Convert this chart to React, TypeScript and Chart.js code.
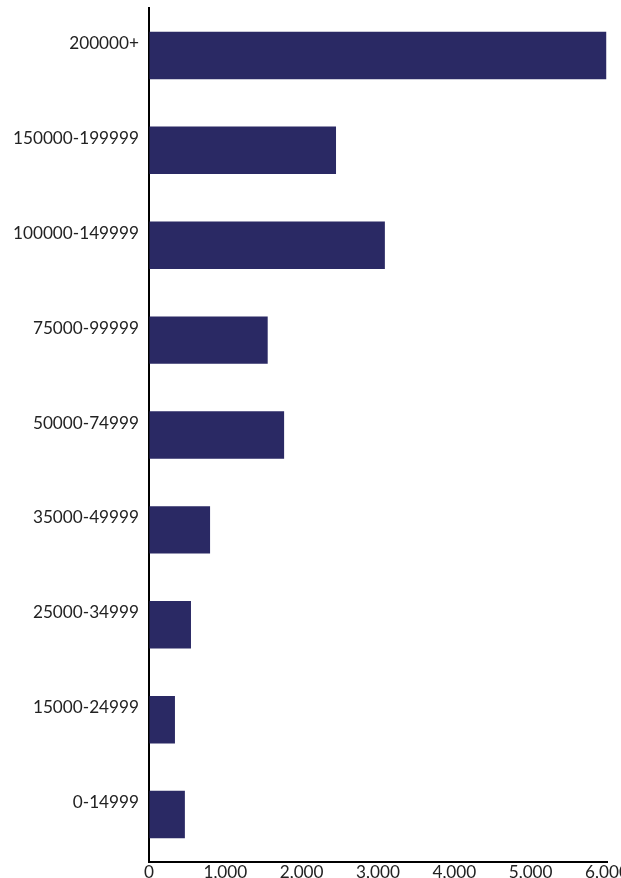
import React, { useEffect, useRef } from "react";
import { Chart, registerables } from "chart.js";

Chart.register(...registerables);

const categories = [
  "200000+",
  "150000-199999",
  "100000-149999",
  "75000-99999",
  "50000-74999",
  "35000-49999",
  "25000-34999",
  "15000-24999",
  "0-14999",
];
const values = [5990, 2450, 3090, 1555, 1770, 800, 550, 340, 470];
const xMax = 6000;
const xStep = 1000;

const FONT = { family: "Lato, 'Open Sans', sans-serif", size: 17.2 };
const TEXT = "#222222";
const BAR = "#2a2964";

export default function App() {
  const ref = useRef<HTMLCanvasElement | null>(null);
  useEffect(() => {
    if (!ref.current) return;
    const chart = new Chart(ref.current, {
      type: "bar",
      data: {
        labels: categories,
        datasets: [
          {
            data: values,
            backgroundColor: BAR,
            barPercentage: 0.5,
            categoryPercentage: 1,
          },
        ],
      },
      options: {
        indexAxis: "y",
        responsive: false,
        animation: false,
        layout: { padding: { top: 8, right: 14, left: 0, bottom: 0 } },
        plugins: { legend: { display: false }, tooltip: { enabled: false } },
        scales: {
          x: {
            min: 0,
            max: xMax,
            ticks: {
              stepSize: xStep,
              font: FONT,
              color: TEXT,
              padding: 0,
              maxRotation: 0,
              callback: (v: any) => Number(v).toLocaleString("en-US"),
            },
            grid: { color: "transparent", drawTicks: false },
            border: { display: true, color: "#000", width: 2 },
            afterFit: (s: any) => {
              s.height = 16;
              s.paddingRight = 0;
              s.paddingLeft = 0;
            },
          },
          y: {
            ticks: { font: FONT, color: TEXT, padding: 10, labelOffset: -12 },
            grid: { color: "transparent", drawTicks: false },
            border: { display: true, color: "#000", width: 2 },
            afterFit: (s: any) => {
              s.width = 149;
              s.paddingTop = 0;
              s.paddingBottom = 0;
            },
          },
        },
      },
    });
    return () => chart.destroy();
  }, []);
  return (
    <div style={{ position: "fixed", left: 0, top: 0, width: 621, height: 878, overflow: "hidden", background: "#fff" }}>
      <canvas ref={ref} width={621} height={878} style={{ width: 621, height: 878, display: "block" }} />
    </div>
  );
}
